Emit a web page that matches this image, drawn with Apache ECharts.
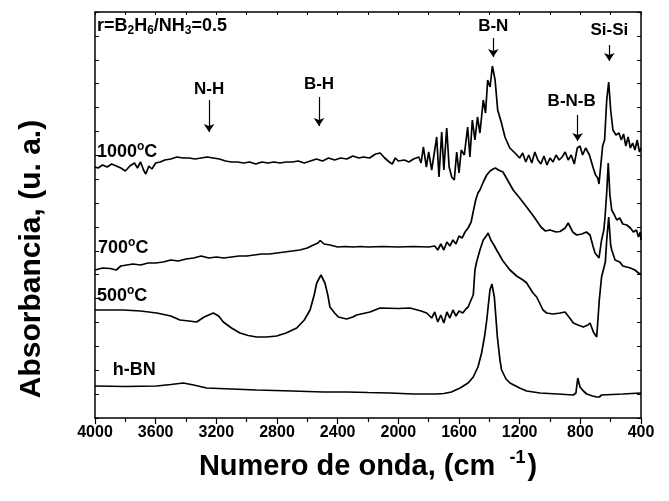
<!DOCTYPE html>
<html>
<head>
<meta charset="utf-8">
<script src="https://cdn.jsdelivr.net/npm/echarts@6/dist/echarts.min.js"></script>
<style>
html,body{margin:0;padding:0;background:#fff;}
#c{width:669px;height:501px;}
</style>
</head>
<body>
<div id="c"></div>
<script>
// x: wavenumber (cm-1), y: absorbance (arbitrary units, curves offset)
const xTicks = [4000, 3600, 3200, 2800, 2400, 2000, 1600, 1200, 800, 400];

const hBN = [[4000,32],[3800,31.5],[3593,32],[3500,33.5],[3418,35],[3350,33],[3264,30],[3100,29],[2934,28],[2700,27],[2495,26],[2341,26],[2200,25.5],[2055,25],[1900,24],[1747,24],[1700,24.5],[1650,26],[1593,30],[1540,35],[1506,41],[1475,51],[1451,65],[1430,83],[1417,98],[1396,128],[1383,134],[1367,121],[1347,81],[1330,58],[1319,48],[1290,39],[1264,35],[1200,30],[1154,27],[1066,25],[950,24],[846,23],[829,25],[817,40],[802,31],[780,27],[758,24],[720,22],[690,21],[675,21],[660,23],[649,24],[520,24],[400,25]];

const t500 = [[4000,108],[3900,108],[3813,108],[3700,107],[3593,105],[3500,102],[3440,98],[3380,97],[3330,96],[3280,101],[3220,105],[3185,102],[3154,96],[3100,90],[3044,85],[2990,82.5],[2934,81],[2870,81],[2802,82],[2740,85],[2670,90],[2620,98],[2582,108],[2555,123],[2538,135],[2510,143],[2484,135],[2465,123],[2451,111],[2420,105],[2396,101],[2341,99],[2300,101],[2275,103],[2187,106],[2121,110],[2000,109.5],[1923,110],[1850,107],[1813,105],[1780,100],[1760,106],[1740,96],[1720,103],[1700,95],[1680,106],[1660,100],[1640,108],[1620,102],[1600,107],[1575,105],[1555,109],[1540,111],[1515,120],[1506,123],[1495,148],[1484,156],[1462,168],[1440,178],[1420,182],[1408,185],[1390,178],[1370,173],[1352,168],[1310,157],[1264,148],[1220,142],[1178,138],[1154,135],[1112,125],[1088,121],[1046,108],[1022,105],[980,104],[934,105],[901,106],[870,100],[846,95],[815,93],[780,91],[750,93],[736,95],[714,86],[692,81],[681,81],[675,118],[660,141],[649,141],[635,156],[626,178],[613,201],[600,173],[593,168],[571,158],[540,156],[520,152],[494,151],[470,150],[440,148],[417,145],[400,144]];

const t700 = [[4000,148],[3950,150],[3900,149.5],[3860,148],[3830,152],[3790,153],[3750,154],[3700,153],[3650,155],[3600,155],[3550,156],[3500,158],[3450,157],[3400,159],[3350,160],[3300,162],[3250,160],[3200,161],[3150,160],[3100,161],[3050,162],[3000,162],[2950,163],[2900,164],[2850,164],[2800,165],[2750,166],[2700,167],[2650,168],[2600,170],[2560,173],[2530,175],[2515,177.5],[2490,174],[2450,173],[2400,171],[2350,171.5],[2300,171],[2250,171.5],[2200,171],[2100,171.5],[2000,171],[1900,171.5],[1800,171],[1760,172],[1740,168],[1720,174],[1700,168],[1680,176],[1660,172],[1640,178],[1620,174],[1600,182],[1580,180],[1560,186],[1540,190],[1520,196],[1508,205],[1490,218],[1475,225],[1462,228],[1440,236],[1417,243],[1395,247],[1375,249],[1360,250],[1340,248],[1310,246],[1280,238],[1243,228],[1200,220],[1154,211],[1100,200],[1060,191],[1030,187],[1000,188],[960,186],[934,186.5],[900,190],[880,195],[850,186],[824,183],[790,184],[760,186],[736,183],[715,171],[703,165],[677,160],[660,178],[645,188],[637,201],[625,228],[616,255],[605,223],[593,208],[575,203],[560,198],[540,200],[520,194],[494,193],[470,190],[450,186],[430,188],[417,181],[405,186],[400,178]];

const t1000 = [[4000,251],[3980,250],[3950,253],[3920,251],[3890,254],[3860,252],[3830,250],[3800,247],[3770,252],[3740,255],[3720,250],[3700,256],[3680,248],[3665,244],[3645,252],[3625,249],[3600,255],[3570,256],[3540,258],[3500,259],[3460,261],[3420,260],[3380,260],[3340,259],[3300,260],[3260,261],[3220,260],[3180,259],[3140,257],[3100,256],[3060,256],[3020,255],[2980,256],[2940,254],[2900,256],[2860,255],[2820,256],[2780,255],[2740,256],[2700,256],[2660,257],[2620,255],[2580,257],[2540,259],[2500,257],[2460,260],[2420,258],[2380,260],[2340,259],[2300,262],[2260,260],[2230,261],[2190,260],[2150,264],[2120,265],[2090,260],[2060,256],[2040,254],[2020,260],[2000,257],[1960,258],[1930,256],[1900,259],[1890,258],[1865,261],[1850,255],[1835,271],[1815,251],[1800,266],[1780,248],[1769,248],[1747,281],[1732,241],[1714,286],[1700,248],[1681,290],[1665,251],[1648,241],[1631,238],[1615,266],[1600,245],[1585,268],[1565,263],[1543,291],[1528,261],[1512,298],[1495,278],[1478,301],[1462,285],[1440,318],[1425,305],[1411,338],[1395,331],[1380,352],[1362,338],[1345,308],[1320,295],[1297,281],[1265,270],[1231,265],[1200,260],[1180,265],[1160,256],[1140,263],[1120,255],[1100,266],[1080,258],[1060,254],[1040,262],[1020,253],[1000,260],[980,256],[960,263],[940,258],[920,261],[900,266],[880,258],[860,263],[840,254],[820,270],[802,272],[785,263],[765,270],[740,263],[715,250],[700,243],[685,240],[677,234],[665,253],[653,272],[640,278],[626,318],[613,336],[600,308],[585,288],[565,283],[545,285],[530,278],[515,284],[500,272],[485,281],[470,270],[455,275],[440,268],[425,278],[410,266],[400,270]];

// annotation labels: [wavenumber, y, text]
const bandLabels = [[3248,329,'N-H'],[2523,334,'B-H'],[1374,392,'B-N'],[609,388,'Si-Si'],[857,317,'B-N-B']];
// arrows: [wavenumber, yStart, yEnd]
const bandArrows = [[3248,318,286],[2523,321,292],[1374,380,361],[609,373,357],[818,303,277]];
// curve labels: [wavenumber, y, rich text]
const curveLabels = [[3987,392,'{a|r=B}{b|2}{a|H}{b|6}{a|/NH}{b|3}{a|=0.5}'],[3987,266,'{a|1000}{s|o}{a|C}'],[3980,170,'{a|700}{s|o}{a|C}'],[3987,122,'{a|500}{s|o}{a|C}'],[3883,48,'{a|h-BN}']];

const FONT = 'Liberation Sans, Arial, Helvetica, sans-serif';
const rich = {
  a: {fontSize: 18, fontWeight: 'bold', color: '#000', fontFamily: FONT, lineHeight: 22},
  b: {fontSize: 12, fontWeight: 'bold', color: '#000', fontFamily: FONT, lineHeight: 22, verticalAlign: 'bottom'},
  s: {fontSize: 12, fontWeight: 'bold', color: '#000', fontFamily: FONT, lineHeight: 22, verticalAlign: 'top'}
};

const chart = echarts.init(document.getElementById('c'), null, {renderer: 'canvas'});
const YMAX = 406, YINT = 406 / 17;
const lineSeries = (name, data) => ({
  name, type: 'line', data, showSymbol: false, symbol: 'none', smooth: false,
  lineStyle: {color: '#000', width: 1.7}, itemStyle: {color: '#000'}, silent: true, z: 3
});

const annot = {
  type: 'line', data: [], silent: true, z: 5,
  itemStyle: {color: '#000'}, lineStyle: {color: '#000'},
  markPoint: {
    symbol: 'circle', symbolSize: 0, silent: true, animation: false,
    data: [
      ...bandLabels.map(d => ({coord: [d[0], d[1]], label: {show: true, position: 'inside', formatter: d[2], color: '#000', fontSize: 17, fontWeight: 'bold', fontFamily: FONT}})),
      ...curveLabels.map(d => ({coord: [d[0], d[1]], label: {show: true, position: 'inside', align: 'left', formatter: d[2], rich}}))
    ]
  },
  markLine: {
    silent: true, animation: false, symbol: ['none', 'arrow'], symbolSize: 8,
    itemStyle: {color: '#000'},
    lineStyle: {color: '#000', width: 1.2, type: 'solid'}, label: {show: false},
    data: bandArrows.map(d => [{coord: [d[0], d[1]]}, {coord: [d[0], d[2]]}])
  }
};

chart.setOption({
  animation: false,
  backgroundColor: '#fff',
  grid: {left: 95, right: 28, top: 12, bottom: 83, containLabel: false},
  xAxis: [{
    type: 'value', inverse: true, min: 400, max: 4000, interval: 400, position: 'bottom',
    axisLine: {show: true, onZero: false, lineStyle: {color: '#000', width: 1.5}},
    axisTick: {show: true, inside: false, length: 6, lineStyle: {color: '#000', width: 1.2}},
    minorTick: {show: true, splitNumber: 2, length: 4, lineStyle: {color: '#000', width: 1.2}},
    axisLabel: {show: true, margin: 7, color: '#000', fontSize: 16, fontWeight: 'bold', fontFamily: FONT,
      formatter: v => xTicks.includes(v) ? String(v) : ''},
    splitLine: {show: false}
  }, {
    type: 'value', inverse: true, min: 400, max: 4000, interval: 200, position: 'top',
    axisLine: {show: true, onZero: false, lineStyle: {color: '#000', width: 1.5}},
    axisTick: {show: true, inside: true, length: 3, lineStyle: {color: '#000', width: 1}},
    axisLabel: {show: false}, splitLine: {show: false}
  }],
  yAxis: [{
    type: 'value', min: 0, max: YMAX, interval: YINT, position: 'left',
    axisLine: {show: true, onZero: false, lineStyle: {color: '#000', width: 1.5}},
    axisTick: {show: true, inside: true, length: 4, lineStyle: {color: '#000', width: 1}},
    axisLabel: {show: false}, splitLine: {show: false}
  }, {
    type: 'value', min: 0, max: YMAX, interval: YINT, position: 'right',
    axisLine: {show: true, onZero: false, lineStyle: {color: '#000', width: 1.5}},
    axisTick: {show: true, inside: true, length: 4, lineStyle: {color: '#000', width: 1}},
    axisLabel: {show: false}, splitLine: {show: false}
  }],
  graphic: [{
    type: 'text', x: 368, y: 467,
    style: {
      text: '{t|Numero de onda, (cm }{u|-1}{t|)}', align: 'center', verticalAlign: 'middle',
      rich: {
        t: {fontSize: 29, fontWeight: 'bold', fontFamily: FONT, fill: '#000', lineHeight: 36},
        u: {fontSize: 18, fontWeight: 'bold', fontFamily: FONT, fill: '#000', lineHeight: 36, verticalAlign: 'top', padding: [0, 2, 0, 6]}
      }
    }
  }, {
    type: 'text', x: 32, y: 259, rotation: Math.PI / 2,
    style: {
      text: 'Absorbancia, (u. a.)', align: 'center', verticalAlign: 'middle',
      fontSize: 30, fontWeight: 'bold', fontFamily: FONT, fill: '#000'
    }
  }],
  series: [
    lineSeries('h-BN', hBN),
    lineSeries('500°C', t500),
    lineSeries('700°C', t700),
    lineSeries('1000°C', t1000),
    annot
  ]
});
</script>
</body>
</html>
